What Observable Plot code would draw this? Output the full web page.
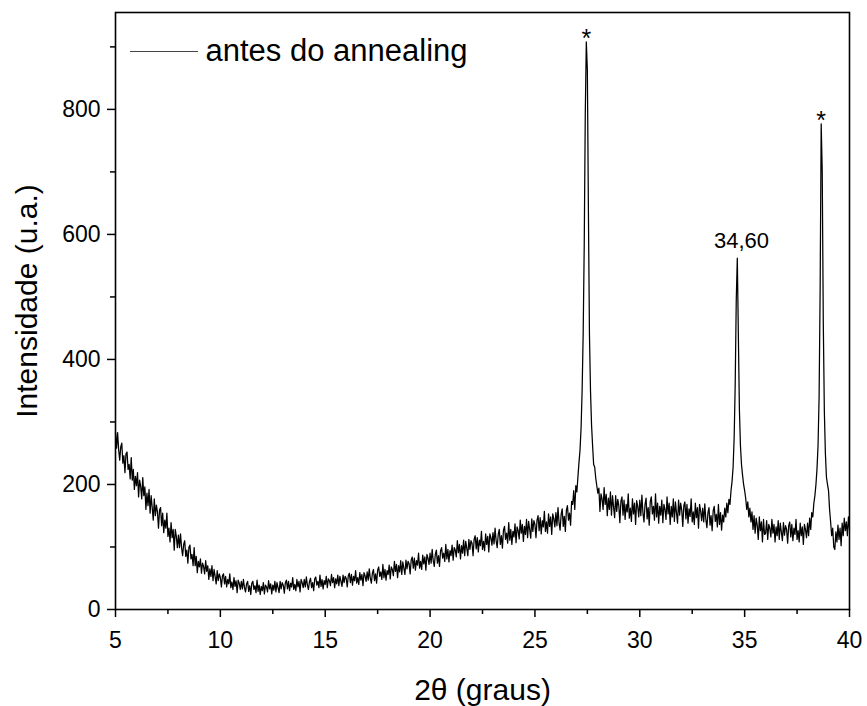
<!DOCTYPE html>
<html>
<head>
<meta charset="utf-8">
<script src="https://cdn.jsdelivr.net/npm/d3@7"></script>
<script src="https://cdn.jsdelivr.net/npm/@observablehq/plot@0.6"></script>
<style>
  html, body { margin: 0; padding: 0; background: #fff; }
  #chart { width: 867px; height: 706px; }
</style>
</head>
<body>
<div id="chart"></div>
<script>
// ---- Data (2θ in degrees, intensity in a.u.) ----
const scanStart = 5.0;
const scanStep = 0.05;
// Intensity sampled every 0.05° from 5.00° to 40.00° (20 values per degree)
const intensity = [
  // 5
  283, 258, 283, 256, 239, 260, 266, 234, 246, 219, 249, 252, 224, 232, 209, 243, 207, 224, 192, 213,
  // 6
  198, 219, 180, 207, 197, 177, 211, 182, 196, 160, 186, 166, 192, 154, 182, 163, 143, 177, 150, 167,
  // 7
  156, 130, 159, 163, 134, 154, 123, 143, 130, 154, 117, 130, 108, 139, 115, 128, 95, 128, 117, 99,
  // 8
  119, 99, 121, 99, 86, 104, 110, 85, 95, 74, 99, 103, 81, 88, 70, 99, 70, 85, 59, 77,
  // 9
  68, 81, 58, 74, 69, 57, 78, 61, 70, 48, 65, 53, 70, 46, 64, 53, 41, 62, 46, 57,
  // 10
  51, 36, 54, 57, 41, 53, 36, 48, 41, 57, 35, 44, 32, 51, 37, 46, 27, 47, 42, 32,
  // 11
  45, 33, 48, 35, 28, 41, 45, 29, 38, 24, 42, 45, 32, 38, 27, 47, 29, 39, 24, 37,
  // 12
  30, 43, 25, 39, 36, 28, 46, 33, 41, 25, 39, 31, 45, 28, 43, 35, 27, 45, 33, 43,
  // 13
  39, 26, 43, 47, 33, 45, 30, 42, 36, 51, 32, 40, 30, 48, 36, 45, 28, 48, 43, 35,
  // 14
  48, 36, 52, 39, 32, 45, 50, 35, 43, 30, 49, 52, 39, 45, 35, 55, 37, 48, 33, 46,
  // 15
  40, 53, 35, 49, 46, 38, 56, 43, 51, 35, 49, 41, 55, 38, 53, 45, 37, 55, 43, 53,
  // 16
  50, 36, 54, 58, 43, 56, 39, 53, 46, 62, 42, 51, 40, 59, 47, 56, 38, 59, 54, 45,
  // 17
  60, 47, 65, 50, 42, 58, 64, 46, 57, 42, 63, 68, 53, 60, 48, 72, 51, 64, 47, 62,
  // 18
  56, 71, 49, 68, 64, 54, 77, 61, 72, 51, 70, 60, 78, 56, 76, 66, 56, 79, 65, 77,
  // 19
  73, 57, 79, 84, 66, 82, 63, 78, 71, 90, 66, 77, 64, 87, 73, 84, 63, 88, 82, 72,
  // 20
  90, 74, 96, 78, 69, 88, 95, 74, 86, 69, 94, 99, 82, 90, 77, 104, 81, 96, 76, 94,
  // 21
  86, 103, 79, 99, 95, 84, 110, 91, 104, 81, 102, 90, 111, 86, 109, 98, 86, 112, 96, 110,
  // 22
  106, 86, 112, 118, 97, 115, 92, 111, 102, 125, 96, 109, 94, 121, 104, 117, 92, 121, 115, 103,
  // 23
  123, 105, 130, 110, 99, 120, 128, 104, 118, 98, 127, 133, 112, 122, 106, 139, 111, 128, 104, 125,
  // 24
  116, 137, 107, 132, 126, 113, 143, 122, 136, 109, 133, 120, 144, 115, 141, 128, 114, 145, 125, 142,
  // 25
  136, 115, 143, 150, 126, 147, 121, 142, 132, 157, 125, 140, 122, 153, 133, 148, 120, 153, 145, 132,
  // 26
  155, 134, 163, 139, 127, 152, 161, 133, 149, 125, 159, 166, 143, 154, 135, 173, 168, 190, 160, 198,
  // 27
  188, 212, 235, 255, 290, 350, 440, 580, 790, 908, 862, 640, 440, 350, 295, 262, 232, 228, 210, 198,
  // 28
  186, 194, 157, 185, 177, 160, 195, 168, 184, 150, 178, 160, 188, 151, 182, 164, 147, 182, 157, 176,
  // 29
  166, 139, 173, 180, 151, 175, 144, 168, 156, 185, 146, 162, 141, 177, 153, 170, 136, 174, 165, 148,
  // 30
  175, 150, 183, 155, 140, 168, 178, 145, 163, 135, 173, 180, 153, 165, 143, 185, 148, 170, 138, 165,
  // 31
  151, 175, 139, 168, 160, 144, 180, 153, 170, 136, 165, 148, 177, 141, 172, 155, 138, 175, 151, 170,
  // 32
  159, 133, 166, 172, 145, 168, 138, 161, 149, 177, 140, 156, 136, 170, 147, 163, 130, 168, 158, 142,
  // 33
  162, 140, 169, 144, 131, 155, 163, 135, 150, 126, 158, 165, 141, 152, 132, 168, 136, 155, 127, 151,
  // 34
  140, 162, 148, 170, 155, 176, 168, 190, 205, 228, 275, 360, 495, 562, 440, 320, 262, 232, 215, 200,
  // 35
  190, 178, 160, 172, 148, 162, 140, 156, 128, 150, 122, 146, 135, 112, 148, 126, 140, 108, 144, 120,
  // 36
  122, 142, 112, 136, 130, 116, 144, 122, 136, 108, 132, 118, 142, 112, 138, 124, 110, 139, 119, 134,
  // 37
  128, 106, 134, 140, 116, 136, 110, 130, 120, 144, 112, 126, 108, 138, 118, 132, 104, 136, 128, 115,
  // 38
  138, 118, 146, 128, 155, 148, 170, 182, 200, 225, 262, 340, 510, 777, 700, 460, 318, 250, 212, 200,
  // 39
  190, 160, 140, 118, 130, 100, 96, 124, 108, 135, 112, 130, 102, 138, 118, 146, 126, 140, 118, 148,
  // 40
  128
];

// Reflection markers and label
const starAngles = [27.45, 38.65];
const starIntensities = [908, 777];
const labelAngles = [34.85];
const labelIntensities = [562];
const labelTexts = ["34,60"];

// Ticks
const xTicks = [5, 10, 15, 20, 25, 30, 35, 40];
const xMinorTicks = [7.5, 12.5, 17.5, 22.5, 27.5, 32.5, 37.5];
const yTicks = [0, 200, 400, 600, 800];
const yMinorTicks = [100, 300, 500, 700, 900];

const seriesName = "antes do annealing";
const xTitle = "2θ (graus)";
const yTitle = "Intensidade (u.a.)";

// ---- Build tables ----
const rows = intensity.map((v, i) => ({ angle: Math.round((scanStart + i * scanStep) * 100) / 100, value: v }));
const stars = starAngles.map((a, i) => ({ angle: a, value: starIntensities[i] }));
const labels = labelTexts.map((t, i) => ({ angle: labelAngles[i], value: labelIntensities[i], text: t }));

const font = "'Liberation Sans', Arial, Helvetica, sans-serif";

const legendLine = (index, scales, values, dims) => {
  const g = d3.create("svg:g");
  g.append("line")
    .attr("x1", dims.marginLeft + 15)
    .attr("x2", dims.marginLeft + 83)
    .attr("y1", dims.marginTop + 39.5)
    .attr("y2", dims.marginTop + 39.5)
    .attr("stroke", "#444")
    .attr("stroke-width", 1.2);
  return g.node();
};

const chart = Plot.plot({
  width: 867,
  height: 706,
  marginLeft: 115,
  marginRight: 18,
  marginTop: 12,
  marginBottom: 97,
  style: { fontFamily: font, background: "#fff", color: "#000" },
  x: { domain: [5, 40], label: null },
  y: { domain: [0, 955], label: null },
  marks: [
    Plot.line(rows, { x: "angle", y: "value", stroke: "#000", strokeWidth: 1.25 }),
    Plot.frame({ stroke: "#000", strokeWidth: 1.6 }),
    Plot.axisX({ ticks: xTicks, tickSize: 8, tickPadding: 14, fontSize: 23, strokeWidth: 1.5, label: null }),
    Plot.axisX({ ticks: xMinorTicks, tickSize: 5, text: null, strokeWidth: 1.5, label: null }),
    Plot.axisY({ ticks: yTicks, tickSize: 8, tickPadding: 7, fontSize: 23, strokeWidth: 1.5, label: null }),
    Plot.axisY({ ticks: yMinorTicks, tickSize: 5, text: null, strokeWidth: 1.5, label: null }),
    Plot.text(stars, { x: "angle", y: "value", text: () => "*", lineAnchor: "middle", dy: -3, fontSize: 25 }),
    Plot.text(labels, { x: "angle", y: "value", text: "text", lineAnchor: "middle", dy: -17, fontSize: 22 }),
    Plot.text([xTitle], { frameAnchor: "bottom", dy: 81, textAnchor: "middle", lineAnchor: "middle", fontSize: 30 }),
    Plot.text([yTitle], { frameAnchor: "left", dx: -88, dy: -10, rotate: -90, textAnchor: "middle", lineAnchor: "middle", fontSize: 30 }),
    Plot.text([seriesName], { frameAnchor: "top-left", dx: 90, dy: 39, textAnchor: "start", lineAnchor: "middle", fontSize: 31 }),
    legendLine
  ]
});
document.getElementById("chart").appendChild(chart);
</script>
</body>
</html>
